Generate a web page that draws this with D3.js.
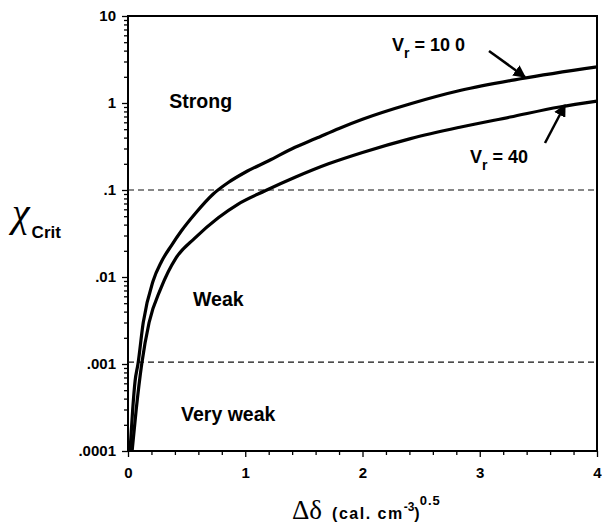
<!DOCTYPE html>
<html>
<head>
<meta charset="utf-8">
<script src="https://cdn.jsdelivr.net/npm/d3@7"></script>
<style>
  body { margin: 0; background: #fff; }
  text { font-family: "Liberation Sans", Arial, sans-serif; font-weight: bold; fill: #000; }
</style>
</head>
<body>
<div id="plot"></div>
<script>
// Data
const xTicks = [0, 1, 2, 3, 4];
const yTicks = [0.0001, 0.001, 0.01, 0.1, 1, 10];
const yTickLabels = [".0001", ".001", ".01", ".1", "1", "10"];
const bands = [0.1, 0.00105];
const regionNames = ["Strong", "Weak", "Very weak"];
const regionPos = [[0.62, 0.88], [0.77, 0.0046], [0.855, 0.00022]];

const v100x = [0.017, 0.04, 0.06, 0.085, 0.13, 0.214, 0.285, 0.37, 0.456, 0.57, 0.727, 0.855, 1.0, 1.2, 1.425, 1.6, 1.8, 2.0, 2.41, 2.84, 3.35, 4.0];
const v100y = [0.0001, 0.0003, 0.00063, 0.001, 0.003, 0.009, 0.015, 0.023, 0.034, 0.053, 0.09, 0.122, 0.16, 0.217, 0.31, 0.39, 0.51, 0.65, 0.98, 1.4, 1.9, 2.6];
const v40x = [0.035, 0.07, 0.117, 0.18, 0.28, 0.41, 0.57, 0.77, 0.94, 1.17, 1.425, 1.71, 2.0, 2.41, 2.84, 3.26, 3.68, 4.0];
const v40y = [0.0001, 0.0003, 0.001, 0.003, 0.0074, 0.0166, 0.028, 0.048, 0.069, 0.098, 0.14, 0.2, 0.27, 0.39, 0.53, 0.69, 0.9, 1.05];

const margin = {top: 16, right: 5, bottom: 73, left: 128};
const width = 602 - margin.left - margin.right;
const height = 524 - margin.top - margin.bottom;

const svg = d3.select("#plot")
    .append("svg")
    .attr("width", 602)
    .attr("height", 524)
    .append("g")
    .attr("transform", `translate(${margin.left},${margin.top})`);

const x = d3.scaleLinear().domain([0, 4]).range([0, width]);
const y = d3.scaleLog().domain([0.0001, 10]).range([height, 0]);

// minor ticks
const xMinor = d3.range(0, 4.001, 0.2).filter(v => Math.abs(v - Math.round(v)) > 1e-6);
const yMinor = [];
for (let e = -4; e < 1; e++) {
    for (let m = 2; m <= 9; m++) yMinor.push(m * Math.pow(10, e));
}

function styleAxis(g) {
    g.select(".domain").remove();
    g.selectAll("line").attr("stroke", "#000").attr("stroke-width", 1.3);
}

svg.append("g")
    .attr("transform", `translate(0,${height})`)
    .call(d3.axisBottom(x).tickValues(xMinor).tickSize(4).tickFormat(""))
    .call(styleAxis);

svg.append("g")
    .attr("transform", `translate(0,${height})`)
    .call(d3.axisBottom(x).tickValues(xTicks).tickSize(6).tickPadding(10).tickFormat(d3.format("d")))
    .call(styleAxis)
    .selectAll("text")
    .style("font-size", "15px");

svg.append("g")
    .call(d3.axisLeft(y).tickValues(yMinor).tickSize(4).tickFormat(""))
    .call(styleAxis);

svg.append("g")
    .call(d3.axisLeft(y).tickValues(yTicks).tickSize(6).tickPadding(6).tickFormat((d, i) => yTickLabels[i]))
    .call(styleAxis)
    .selectAll("text")
    .style("font-size", "15px");

// frame
svg.append("rect")
    .attr("width", width)
    .attr("height", height)
    .attr("fill", "none")
    .attr("stroke", "#000")
    .attr("stroke-width", 2);

// dashed boundaries
svg.selectAll(".band")
    .data(bands)
    .enter().append("line")
    .attr("x1", 0)
    .attr("x2", width)
    .attr("y1", d => y(d))
    .attr("y2", d => y(d))
    .attr("stroke", "#111")
    .attr("stroke-width", 1.2)
    .attr("stroke-dasharray", "6,4");

// curves
const line = d3.line()
    .x(d => x(d[0]))
    .y(d => y(d[1]))
    .curve(d3.curveMonotoneX);

[[v100x, v100y], [v40x, v40y]].forEach(([xs, ys]) => {
    svg.append("path")
        .datum(xs.map((v, i) => [v, ys[i]]))
        .attr("fill", "none")
        .attr("stroke", "#000")
        .attr("stroke-width", 3.2)
        .attr("d", line);
});

// region labels
svg.selectAll(".region")
    .data(regionNames)
    .enter().append("text")
    .attr("x", (d, i) => x(regionPos[i][0]))
    .attr("y", (d, i) => y(regionPos[i][1]))
    .attr("text-anchor", "middle")
    .style("font-size", "19.5px")
    .text(d => d);

// curve labels with arrows
svg.append("defs").append("marker")
    .attr("id", "arrow")
    .attr("viewBox", "0 0 10 10")
    .attr("refX", 9)
    .attr("refY", 5)
    .attr("markerWidth", 5)
    .attr("markerHeight", 5)
    .attr("orient", "auto")
    .append("path")
    .attr("d", "M0,0 L10,5 L0,10 z")
    .attr("fill", "#000");

function vrLabel(px, py, val) {
    const t = svg.append("text")
        .attr("x", px)
        .attr("y", py)
        .style("font-size", "18px");
    t.append("tspan").text("V");
    t.append("tspan").attr("dy", 7).style("font-size", "14px").text("r");
    t.append("tspan").attr("dy", -7).text(" = " + val);
}
vrLabel(264, 35, "10 0");
vrLabel(342, 147, "40");

svg.append("line")
    .attr("x1", 361).attr("y1", 35)
    .attr("x2", 397).attr("y2", 61)
    .attr("stroke", "#000").attr("stroke-width", 2.5)
    .attr("marker-end", "url(#arrow)");

svg.append("line")
    .attr("x1", 417).attr("y1", 127)
    .attr("x2", 437).attr("y2", 89)
    .attr("stroke", "#000").attr("stroke-width", 2.5)
    .attr("marker-end", "url(#arrow)");

// y axis label
const yl = svg.append("text")
    .attr("x", -116)
    .attr("y", 210);
yl.append("tspan")
    .style("font-family", "'Liberation Serif', serif")
    .style("font-style", "italic")
    .style("font-weight", "normal")
    .style("font-size", "40px")
    .text("χ");
yl.append("tspan")
    .attr("dy", 12)
    .attr("dx", 2)
    .style("font-size", "17px")
    .text("Crit");

// x axis label
const xl = svg.append("text")
    .attr("x", 164)
    .attr("y", 503);
xl.append("tspan")
    .style("font-family", "'Liberation Serif', serif")
    .style("font-weight", "normal")
    .style("font-size", "27px")
    .text("Δδ");
xl.append("tspan")
    .attr("dx", 10)
    .style("font-size", "16px")
    .style("letter-spacing", "1.5px")
    .text("(cal.  cm");
xl.append("tspan")
    .attr("dy", -8)
    .style("font-size", "12px")
    .text("-3");
xl.append("tspan")
    .attr("dy", 8)
    .style("font-size", "16px")
    .text(")");
xl.append("tspan")
    .attr("dy", -14)
    .style("font-size", "13px")
    .style("letter-spacing", "1px")
    .text("0.5");
</script>
</body>
</html>
